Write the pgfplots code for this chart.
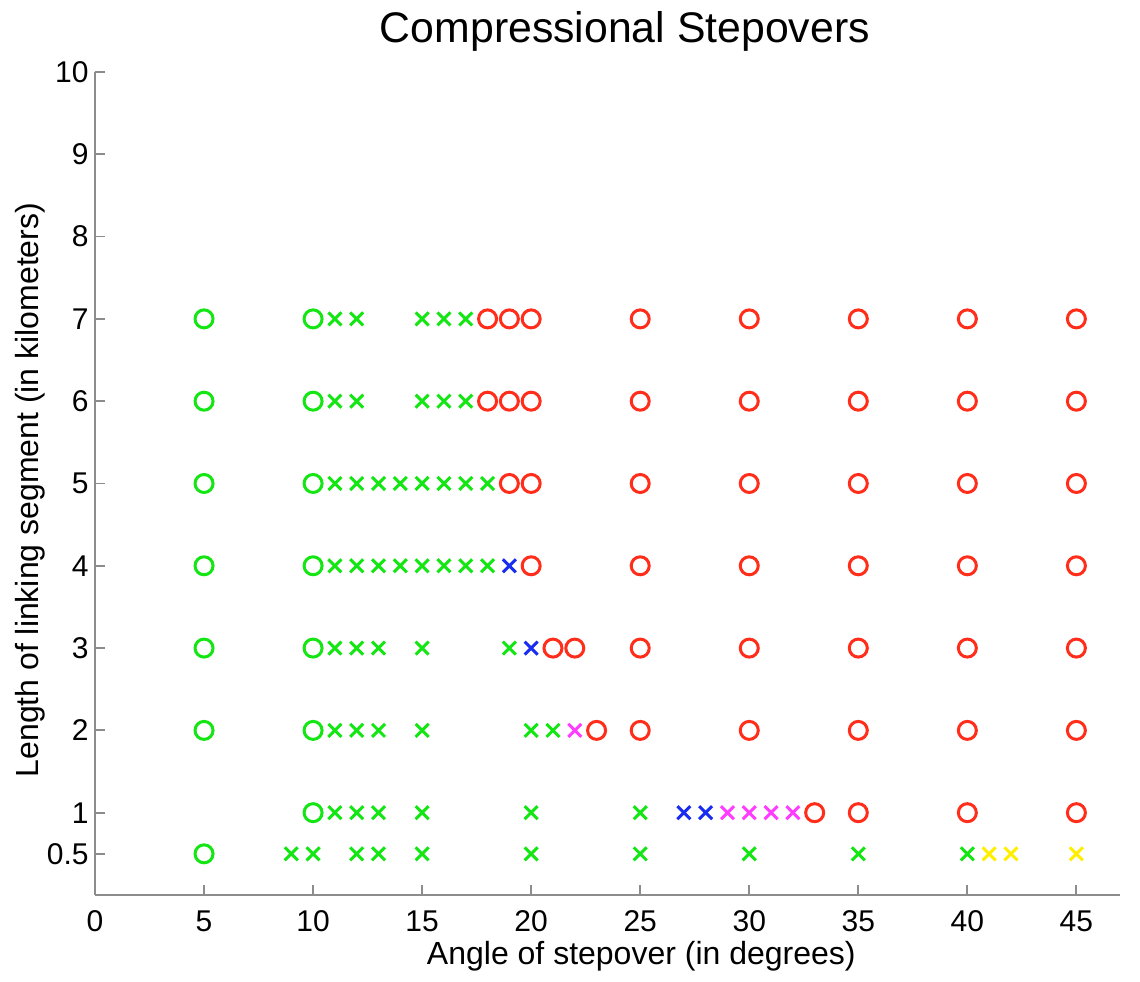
\documentclass[border=0pt]{standalone}
\usepackage{pgfplots}
\pgfplotsset{compat=1.18}
\usepackage{fontspec}
\setmainfont{Liberation Sans}
\definecolor{mgreen}{RGB}{20,230,20}
\definecolor{mred}{RGB}{255,45,25}
\definecolor{mblue}{RGB}{25,45,240}
\definecolor{mmag}{RGB}{255,60,255}
\definecolor{myel}{RGB}{255,238,0}
\definecolor{axgray}{RGB}{140,140,140}
\begin{document}
\begin{tikzpicture}
\begin{axis}[
  name=ax,
  scale only axis,
  width=512.5pt, height=411.5pt,
  xmin=0, xmax=47, ymin=0, ymax=10,
  axis x line=bottom, axis y line=left,
  axis line style={-, draw=axgray, line width=0.9pt},
  major tick style={draw=axgray, line width=0.9pt},
  major tick length=5pt,
  tick align=inside,
  xtick={0,5,10,15,20,25,30,35,40,45},
  ytick={0.5,1,2,3,4,5,6,7,8,9,10},
  yticklabels={0.5,1,2,3,4,5,6,7,8,9,10},
  /pgf/number format/assume math mode=true,
  tick label style={font=\fontsize{15}{18}\selectfont, text=black},
  xticklabel style={anchor=base, yshift=-18.5pt},
  yticklabel style={anchor=east, inner xsep=0pt, xshift=-3pt},
  title={Compressional Stepovers},
  title style={font=\fontsize{21.4}{25}\selectfont, at={(axis description cs:0.517,1)}, anchor=base, yshift=8.5pt},
  xlabel={Angle of stepover (in degrees)},
  xlabel style={font=\fontsize{16}{19}\selectfont, at={(axis description cs:0.533,0)}, anchor=base, yshift=-35pt},
  ylabel={Length of linking segment (in kilometers)},
  ylabel style={font=\fontsize{16}{19}\selectfont, at={(axis description cs:-0.0634,0.492)}, anchor=center},
  clip=false,
]
% green circles
\addplot[only marks, mark=o, mark size=4.5pt, draw=mgreen, line width=1.5pt] coordinates {
 (5,7) (10,7) (5,6) (10,6) (5,5) (10,5) (5,4) (10,4) (5,3) (10,3) (5,2) (10,2) (10,1) (5,0.5)
};
% green crosses
\addplot[only marks, mark=x, mark size=4.6pt, draw=mgreen, line width=1.5pt] coordinates {
 (11,7) (12,7) (15,7) (16,7) (17,7)
 (11,6) (12,6) (15,6) (16,6) (17,6)
 (11,5) (12,5) (13,5) (14,5) (15,5) (16,5) (17,5) (18,5)
 (11,4) (12,4) (13,4) (14,4) (15,4) (16,4) (17,4) (18,4)
 (11,3) (12,3) (13,3) (15,3) (19,3)
 (11,2) (12,2) (13,2) (15,2) (20,2) (21,2)
 (11,1) (12,1) (13,1) (15,1) (20,1) (25,1)
 (9,0.5) (10,0.5) (12,0.5) (13,0.5) (15,0.5) (20,0.5) (25,0.5) (30,0.5) (35,0.5) (40,0.5)
};
% blue crosses
\addplot[only marks, mark=x, mark size=4.6pt, draw=mblue, line width=1.5pt] coordinates {
 (19,4) (20,3) (27,1) (28,1)
};
% magenta crosses
\addplot[only marks, mark=x, mark size=4.6pt, draw=mmag, line width=1.5pt] coordinates {
 (22,2) (29,1) (30,1) (31,1) (32,1)
};
% yellow crosses
\addplot[only marks, mark=x, mark size=4.6pt, draw=myel, line width=1.5pt] coordinates {
 (41,0.5) (42,0.5) (45,0.5)
};
% red circles
\addplot[only marks, mark=o, mark size=4.5pt, draw=mred, line width=1.5pt] coordinates {
 (18,7) (19,7) (20,7) (25,7) (30,7) (35,7) (40,7) (45,7)
 (18,6) (19,6) (20,6) (25,6) (30,6) (35,6) (40,6) (45,6)
 (19,5) (20,5) (25,5) (30,5) (35,5) (40,5) (45,5)
 (20,4) (25,4) (30,4) (35,4) (40,4) (45,4)
 (21,3) (22,3) (25,3) (30,3) (35,3) (40,3) (45,3)
 (23,2) (25,2) (30,2) (35,2) (40,2) (45,2)
 (33,1) (35,1) (40,1) (45,1)
};
\end{axis}
\pgfresetboundingbox
\path (ax.south west) ++(-47.5pt,-43.5pt) coordinate (bbA);
\path (ax.north east) ++(10pt,36pt) coordinate (bbB);
\path (bbA) rectangle (bbB);
\end{tikzpicture}
\end{document}
